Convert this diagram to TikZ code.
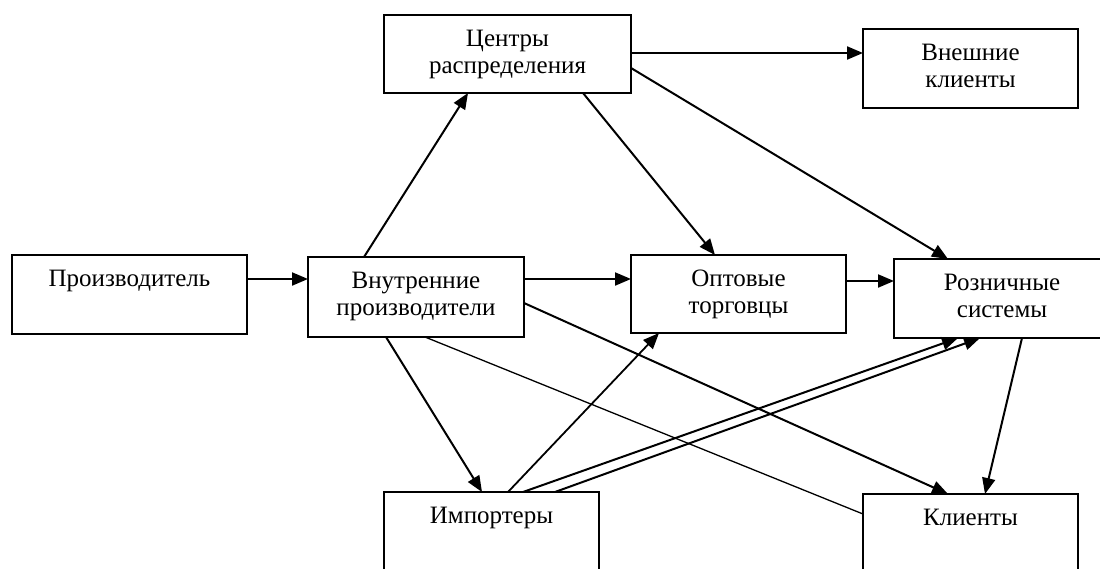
\documentclass[tikz,border=0pt]{standalone}
\usepackage{fontspec}
\setmainfont{Liberation Serif}
\usetikzlibrary{arrows.meta,calc}

\tikzset{
  % rectangular block; the first text line sits 31.7pt below the top edge
  block/.style n args={2}{draw, line width=1.6pt, inner sep=0pt, outer sep=0pt,
    anchor=north west, align=center, text width=#1pt,
    text height=31.7pt, text depth={(#2-31.7)*1pt},
    font=\fontsize{25}{26.8}\selectfont},
  flow/.style={line width=2pt, -{Triangle[length=16pt,width=13pt]}},
  plain/.style={line width=1.3pt}
}

\begin{document}
\begin{tikzpicture}[x=1pt,y=-1pt]
\useasboundingbox (0,0) rectangle (1100,568);
\clip (0,0) rectangle (1100,568);
\fill[white] (0,0) rectangle (1100,568);

% blocks
\node[block={235}{79}] (P)  at (12,255)  {Производитель};
\node[block={216}{80}] (VP) at (308,257) {Внутренние\\производители};
\node[block={247}{78}] (CR) at (384,15)  {Центры\\распределения};
\node[block={215}{79}] (VK) at (863,29)  {Внешние\\клиенты};
\node[block={215}{78}] (OT) at (631,255) {Оптовые\\торговцы};
\node[block={216}{79}] (RS) at (894,259) {Розничные\\системы};
\node[block={215}{80}] (IM) at (384,492) {Импортеры};
\node[block={215}{80}] (KL) at (863,494) {Клиенты};

% horizontal flows
\draw[flow] ($(P.north west)+(235,24)$)  -- ($(VP.north west)+(0,22)$);
\draw[flow] ($(VP.north west)+(216,22)$) -- ($(OT.north west)+(0,24)$);
\draw[flow] ($(OT.north west)+(215,26)$) -- ($(RS.north west)+(0,22)$);
\draw[flow] ($(CR.north west)+(247,38)$) -- ($(VK.north west)+(0,24)$);

% flows from the distribution centres
\draw[flow] ($(VP.north west)+(56,0)$)   -- ($(CR.north west)+(84,78)$);
\draw[flow] ($(CR.north west)+(199,78)$) -- ($(OT.north west)+(84,0)$);
\draw[flow] ($(CR.north west)+(247,53)$) -- ($(RS.north west)+(54,0)$);

% flows from domestic producers
\draw[flow]  ($(VP.north west)+(216,46)$) -- ($(KL.north west)+(85,0)$);
\draw[plain] ($(VP.north west)+(117,80)$) -- ($(KL.north west)+(0,20)$);
\draw[flow]  ($(VP.north west)+(78,80)$)  -- ($(IM.north west)+(98,0)$);

% flows from importers
\draw[flow,line width=1.8pt] ($(IM.north west)+(124,0)$) -- ($(OT.north west)+(28,78)$);
\draw[flow] ($(IM.north west)+(139,0)$) -- ($(RS.north west)+(64,79)$);
\draw[flow] ($(IM.north west)+(171,0)$) -- ($(RS.north west)+(86,79)$);

% retail to clients
\draw[flow] ($(RS.north west)+(128,79)$) -- ($(KL.north west)+(122,0)$);
\end{tikzpicture}
\end{document}
